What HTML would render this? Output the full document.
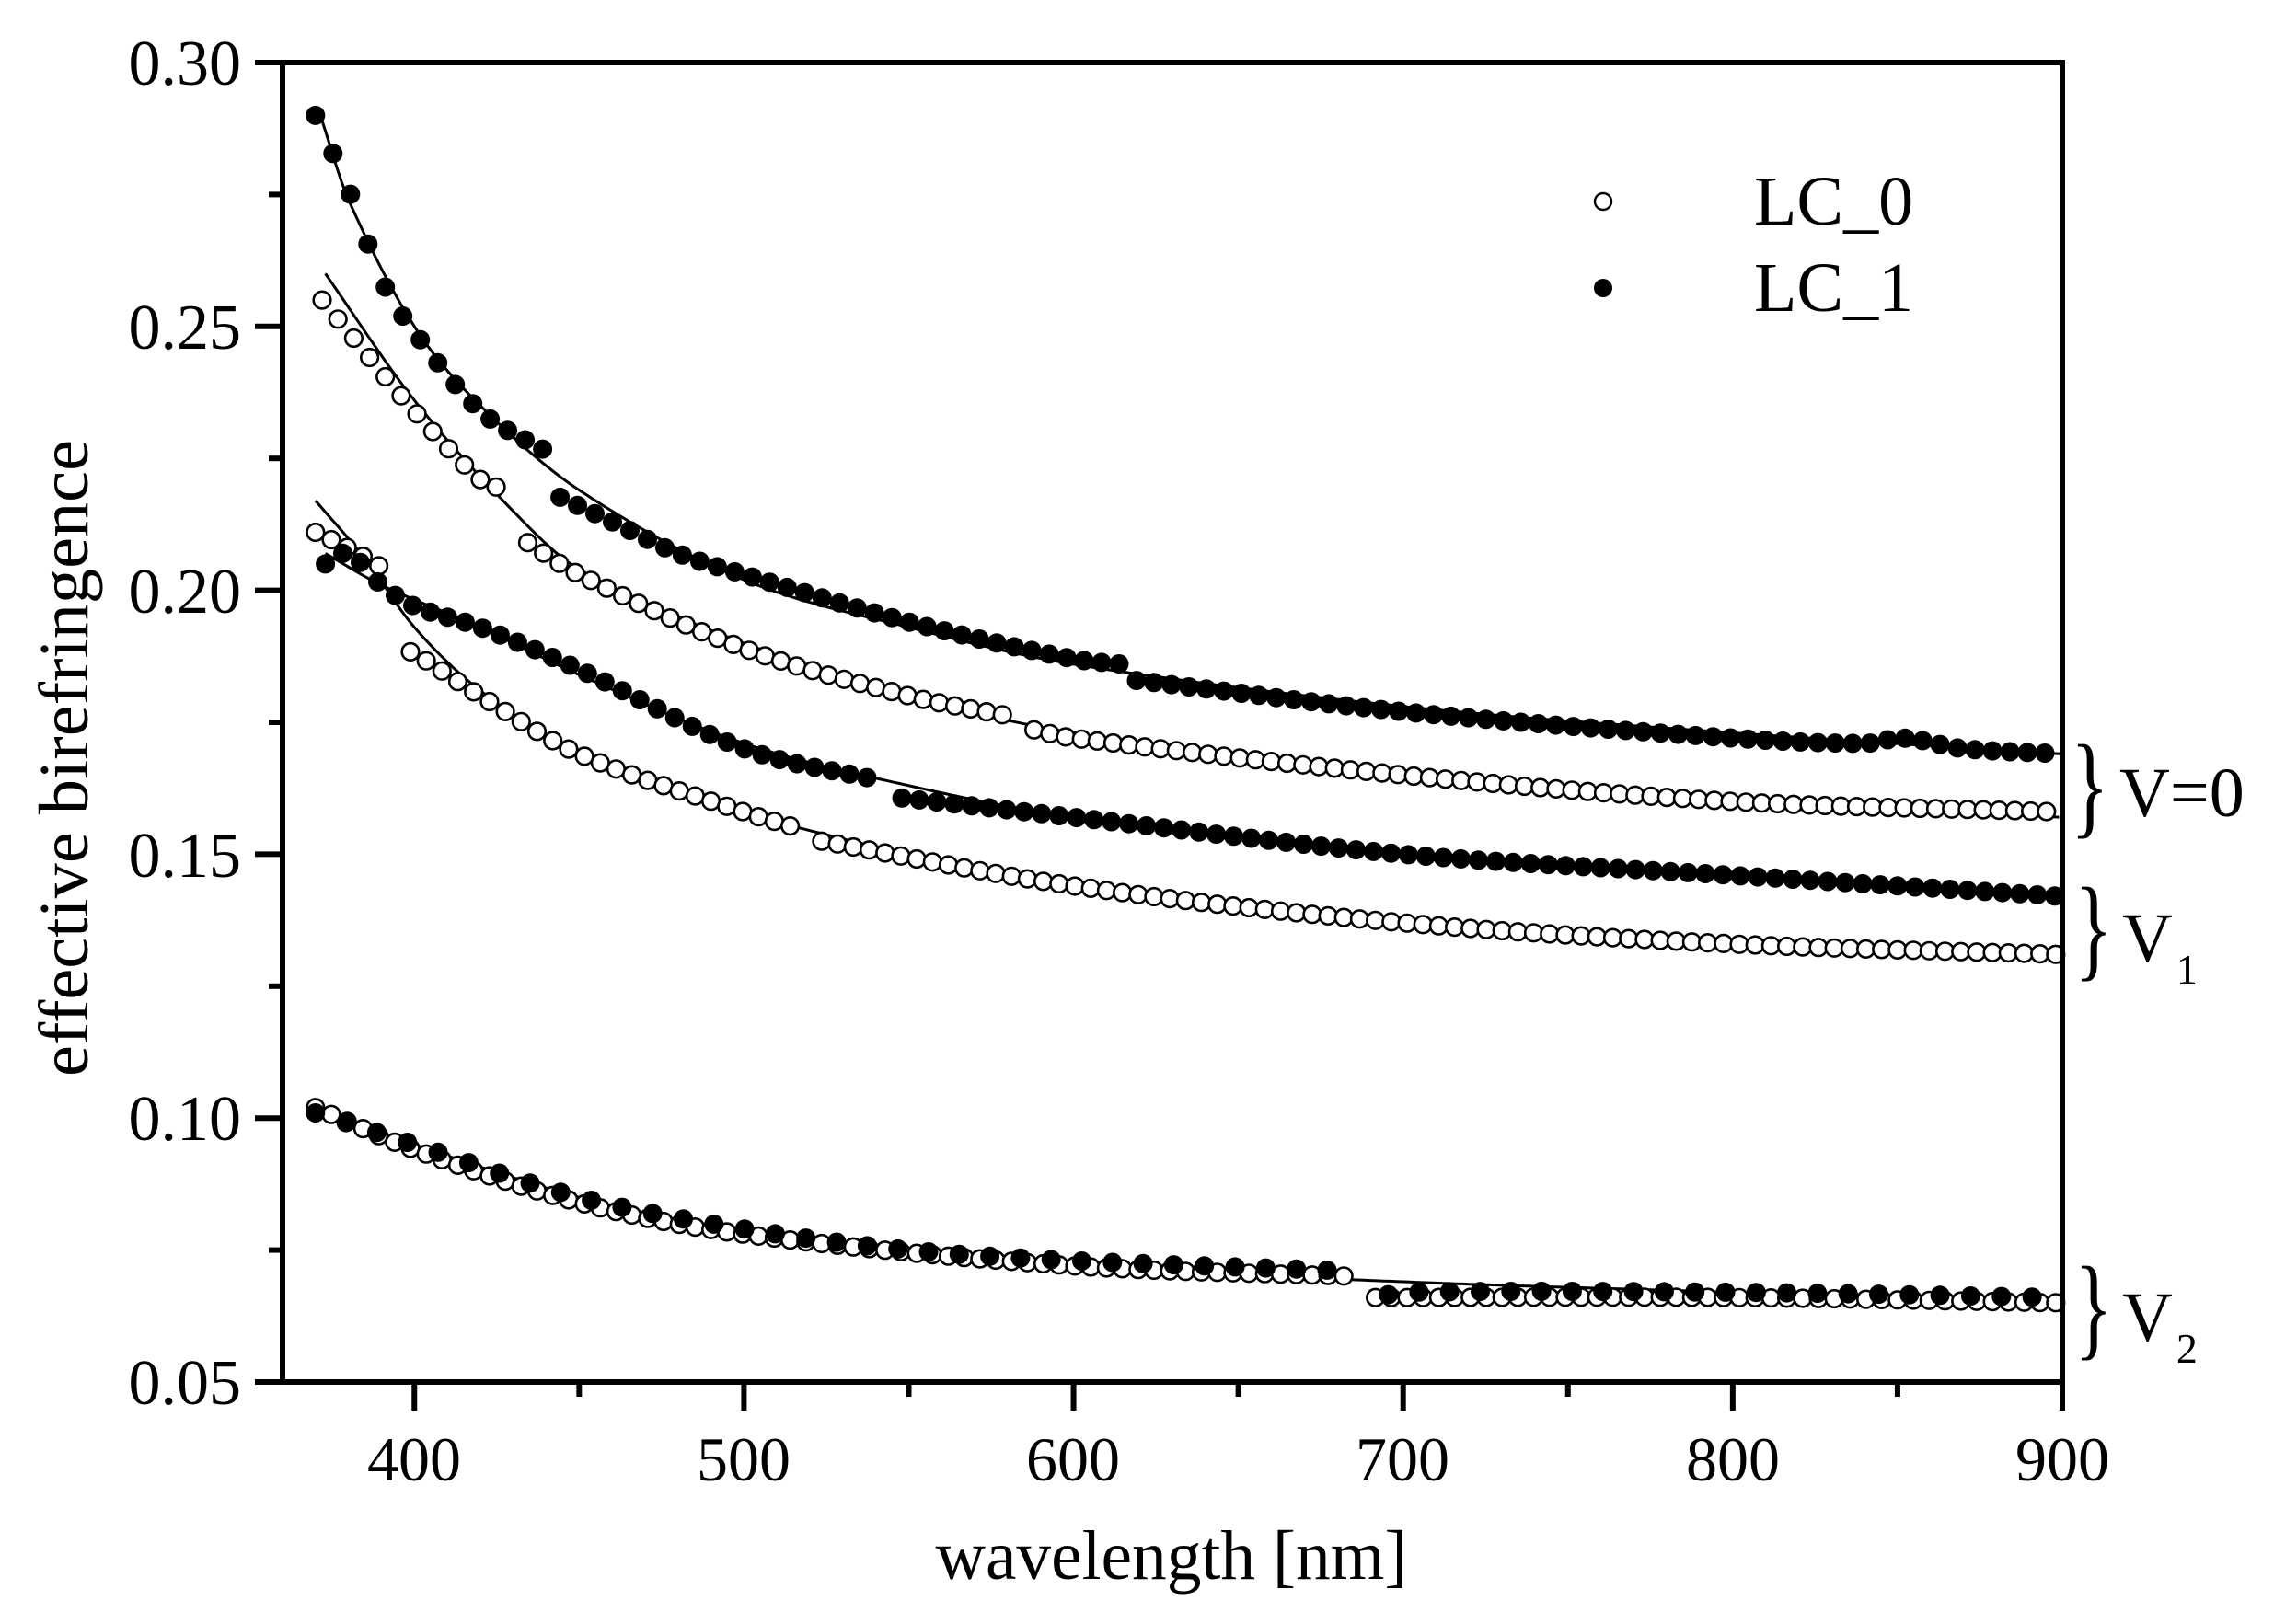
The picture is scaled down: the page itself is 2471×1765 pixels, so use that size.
<!DOCTYPE html>
<html><head><meta charset="utf-8"><style>
html,body{margin:0;padding:0;background:#fff;}
svg{display:block;font-family:"Liberation Serif",serif;}
</style></head><body>
<svg id="s" width="2471" height="1765" viewBox="0 0 2471 1765" xmlns="http://www.w3.org/2000/svg">
<rect width="2471" height="1765" fill="#fff"/>
<g id="data"></g>
<g stroke="#000" stroke-width="6" fill="none" stroke-linecap="square">
<rect x="307" y="68" width="1934" height="1434"/>
</g>
<g id="ticks" stroke="#000" stroke-width="6"></g>
<g font-size="70" text-anchor="end" fill="#000">
<text x="262" y="92">0.30</text>
<text x="262" y="379">0.25</text>
<text x="262" y="666">0.20</text>
<text x="262" y="953">0.15</text>
<text x="262" y="1239">0.10</text>
<text x="262" y="1526">0.05</text>
</g>
<g font-size="68" text-anchor="middle" fill="#000">
<text x="450" y="1609">400</text>
<text x="808" y="1609">500</text>
<text x="1166" y="1609">600</text>
<text x="1524" y="1609">700</text>
<text x="1883" y="1609">800</text>
<text x="2241" y="1609">900</text>
</g>
<text x="1273" y="1716" font-size="76" text-anchor="middle" textLength="513" lengthAdjust="spacingAndGlyphs">wavelength [nm]</text>
<text transform="translate(95,824) rotate(-90)" font-size="76" text-anchor="middle" textLength="692" lengthAdjust="spacingAndGlyphs">effective birefringence</text>
<circle cx="1742" cy="219" r="9" fill="#fff" stroke="#000" stroke-width="2.4"/>
<circle cx="1742" cy="313" r="10" fill="#000"/>
<text x="1906" y="244" font-size="76">LC_0</text>
<text x="1906" y="338" font-size="76">LC_1</text>
<g font-size="124" fill="#000">
<text transform="translate(2250,895) scale(0.7,1)">}</text>
<text transform="translate(2254,1050) scale(0.7,1)">}</text>
<text transform="translate(2254,1462) scale(0.7,1)">}</text>
</g>
<g font-size="76" fill="#000">
<text x="2303" y="887">V=0</text>
<text x="2306" y="1045">V<tspan font-size="46" dx="4" dy="24">1</tspan></text>
<text x="2306" y="1457">V<tspan font-size="46" dx="4" dy="24">2</tspan></text>
</g>
</svg>
<script>
(function(){
var NS="http://www.w3.org/2000/svg";
function X(l){return 307+(l-360)*3.5815;}
function Y(v){return 68+(0.30-v)*5736;}
function interp(pts,l){
 for(var i=0;i<pts.length-1;i++){
  if(l<=pts[i+1][0]){
   var a=pts[i],b=pts[i+1];
   var p0=pts[Math.max(i-1,0)],p3=pts[Math.min(i+2,pts.length-1)];
   var t=(l-a[0])/(b[0]-a[0]);
   var m1=(b[1]-p0[1])/(b[0]-p0[0])*(b[0]-a[0]);
   var m2=(p3[1]-a[1])/(p3[0]-a[0])*(b[0]-a[0]);
   var t2=t*t,t3=t2*t;
   return (2*t3-3*t2+1)*a[1]+(t3-2*t2+t)*m1+(-2*t3+3*t2)*b[1]+(t3-t2)*m2;
  }
 }
 return pts[pts.length-1][1];
}
var g=document.getElementById("data");
function el(n,at){var e=document.createElementNS(NS,n);for(var k in at)e.setAttribute(k,at[k]);g.appendChild(e);return e;}
function line(pts){
 var d="";
 for(var l=pts[0][0];l<=pts[pts.length-1][0];l+=2){d+=(d?"L":"M")+X(l).toFixed(1)+","+Y(interp(pts,l)).toFixed(1);}
 el("path",{d:d,fill:"none",stroke:"#000","stroke-width":3});
}
function markers(segs,start,step,filled){
 for(var l=start;l<=898;l+=step){
  var v=null;
  for(var s=0;s<segs.length;s++){var p=segs[s];if(l>=p[0][0]-0.01&&l<=p[p.length-1][0]+0.01){v=interp(p,l);break;}}
  if(v===null)continue;
  if(filled)el("circle",{cx:X(l).toFixed(1),cy:Y(v).toFixed(1),r:10.5,fill:"#000"});
  else el("circle",{cx:X(l).toFixed(1),cy:Y(v).toFixed(1),r:9.3,fill:"#fff",stroke:"#000","stroke-width":2.6});
 }
}
line([[372,.289],[380,.274],[400,.250],[420,.235],[450,.219],[500,.202],[550,.193],[600,.186],[700,.178],[800,.173],[900,.169]]);
line([[373,.260],[400,.236],[430,.215],[450,.204],[500,.190],[550,.180],[600,.173],[700,.165],[800,.160],[900,.157]]);
line([[373,.207],[390,.201],[420,.193],[450,.184],[500,.171],[550,.163],[600,.157],[700,.150],[800,.146],[900,.142]]);
line([[370,.217],[385,.206],[400,.193],[420,.181],[450,.169],[500,.158],[550,.150],[600,.144],[700,.137],[800,.133],[900,.131]]);
line([[370,.102],[400,.095],[450,.085],[500,.078],[600,.072],[700,.069],[800,.067],[900,.065]]);
markers([[[372,.255],[380,.249],[400,.234],[420,.221],[428,.219]],[[432,.210],[450,.203],[500,.189],[550,.180],[582,.176]],[[585,.174],[600,.172],[700,.165],[800,.160],[900,.158]]],372,4.8,false);
markers([[[370,.211],[380,.208],[391,.204]],[[395,.189],[400,.188],[420,.180],[450,.169],[500,.158],[516,.155]],[[519,.153],[600,.144],[700,.137],[800,.133],[900,.131]]],370,4.8,false);
markers([[[370,.102],[400,.094],[450,.084],[500,.078],[600,.072],[686,.070]],[[688,.066],[800,.066],[900,.065]]],370,4.8,false);
markers([[[370,.290],[380,.276],[390,.259],[400,.249],[420,.234],[441,.226]],[[443,.218],[460,.213],[480,.207],[500,.203],[550,.194],[600,.187],[615,.186]],[[618,.183],[700,.177],[800,.172],[840,.171],[852,.172],[870,.170],[900,.169]]],370,5.3,true);
markers([[[373,.205],[380,.207],[390,.201],[400,.197],[420,.193],[450,.185],[500,.170],[541,.164]],[[543,.161],[600,.157],[700,.150],[800,.146],[900,.142]]],373,5.3,true);
markers([[[370,.101],[400,.095],[450,.085],[500,.079],[550,.075],[600,.073],[686,.071]],[[692,.066],[700,.067],[800,.067],[900,.066]]],370,9.3,true);
var t=document.getElementById("ticks");
function tk(x1,y1,x2,y2){var e=document.createElementNS(NS,"line");e.setAttribute("x1",x1);e.setAttribute("y1",y1);e.setAttribute("x2",x2);e.setAttribute("y2",y2);t.appendChild(e);}
for(var i=0;i<=10;i++){var y=68+i*143.4;tk(307,y,i%2?292:277,y);}
for(var l=400;l<=900;l+=50){var x=X(l);tk(x,1502,x,l%100?1518:1533);}
})();
</script>
</body></html>
